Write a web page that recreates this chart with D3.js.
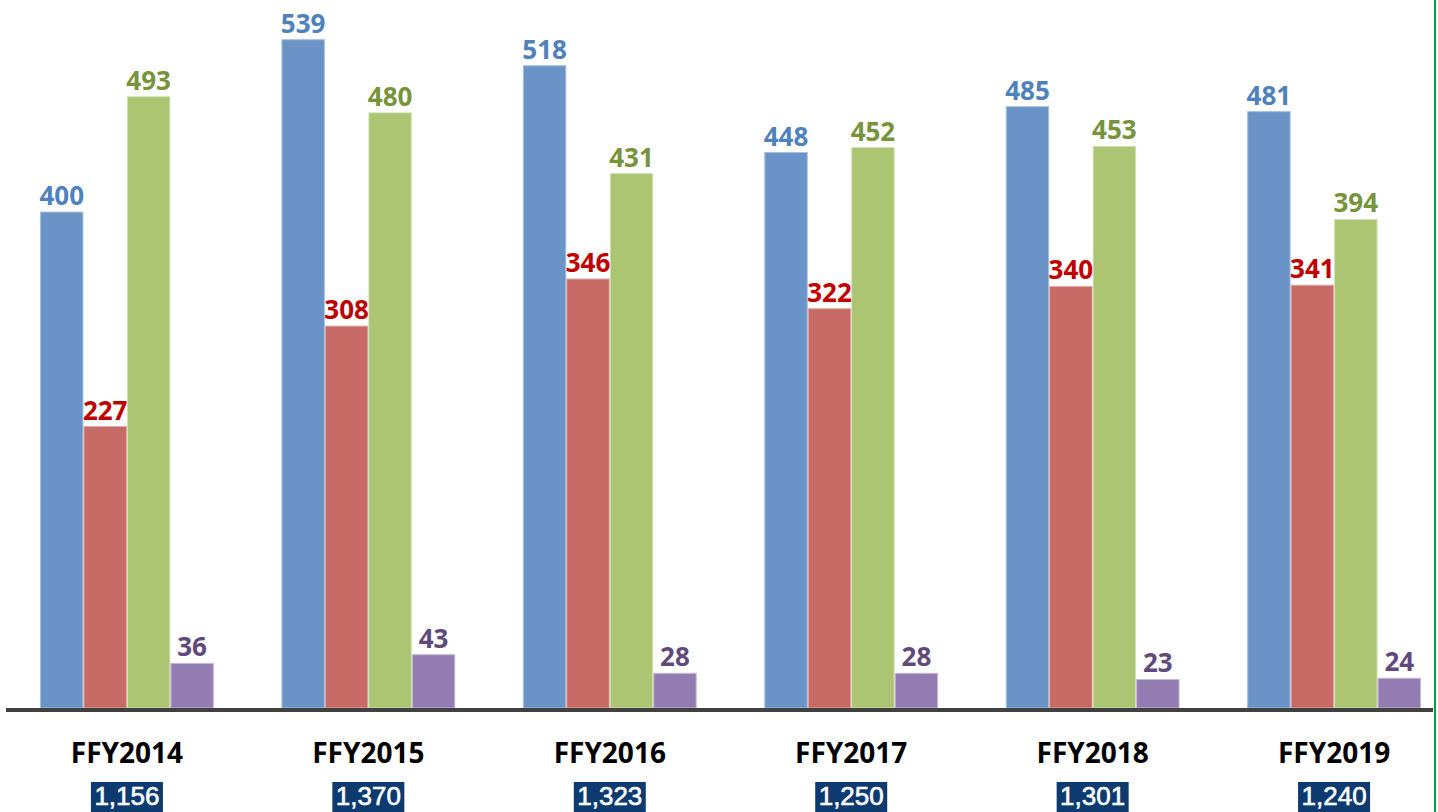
<!DOCTYPE html>
<html lang="en">
<head>
    <meta charset="UTF-8">
    <title>FFY Grouped Bars</title>
    <script src="https://d3js.org/d3.v7.min.js"></script>
    <style>
        body { margin: 0; background: #ffffff; }
        svg { display: block; }
        .value-label { font-family: "Open Sans", sans-serif; font-weight: bold; font-size: 26px; text-anchor: middle; }
        .cat-label { font-family: "Open Sans", sans-serif; font-weight: bold; font-size: 28px; text-anchor: middle; fill: #000; }
        .total-label { font-family: "Liberation Sans", Arial, sans-serif; font-size: 26px; text-anchor: middle; fill: #fff; stroke: #fff; stroke-width: 0.6px; }
    </style>
</head>
<body>
<svg id="chart" width="1438" height="812"></svg>
<script>
    // Data
    const years = ["FFY2014", "FFY2015", "FFY2016", "FFY2017", "FFY2018", "FFY2019"];
    const seriesA = [400, 539, 518, 448, 485, 481];
    const seriesB = [227, 308, 346, 322, 340, 341];
    const seriesC = [493, 480, 431, 452, 453, 394];
    const seriesD = [36, 43, 28, 28, 23, 24];
    const totals = ["1,156", "1,370", "1,323", "1,250", "1,301", "1,240"];

    const seriesList = [seriesA, seriesB, seriesC, seriesD];
    const fills = ["#6a94c8", "#c76a66", "#abc572", "#937cb1"];
    const strokes = ["#a8c0e0", "#e0aaa6", "#d2e2b4", "#c8bad8"];
    const labelColors = ["#4f81bd", "#c00000", "#77933c", "#604a7b"];

    const svg = d3.select("#chart");
    const baseY = 708;

    const x0 = d3.scaleBand()
        .domain(years)
        .range([40, 1421])
        .paddingInner(0.28)
        .paddingOuter(0);

    const x1 = d3.scaleBand()
        .domain(d3.range(seriesList.length))
        .range([0, x0.bandwidth()]);

    const y = d3.scaleLinear()
        .domain([0, 571])
        .range([baseY, 0]);

    // Bars
    const groups = svg.selectAll(".group")
        .data(years)
        .enter().append("g")
        .attr("class", "group")
        .attr("transform", d => `translate(${x0(d)},0)`);

    groups.selectAll("rect")
        .data((d, i) => seriesList.map((s, k) => ({ k: k, v: s[i] })))
        .enter().append("rect")
        .attr("x", d => x1(d.k) + 0.5)
        .attr("y", d => y(d.v))
        .attr("width", x1.bandwidth() - 1)
        .attr("height", d => baseY - y(d.v))
        .attr("fill", d => fills[d.k])
        .attr("stroke", d => strokes[d.k])
        .attr("stroke-width", 1);

    groups.selectAll(".value-label")
        .data((d, i) => seriesList.map((s, k) => ({ k: k, v: s[i] })))
        .enter().append("text")
        .attr("class", "value-label")
        .attr("x", d => x1(d.k) + x1.bandwidth() / 2)
        .attr("y", d => y(d.v) - 7)
        .attr("fill", d => labelColors[d.k])
        .text(d => d.v);

    // Baseline axis
    svg.append("line")
        .attr("x1", 6)
        .attr("x2", 1433)
        .attr("y1", baseY + 2)
        .attr("y2", baseY + 2)
        .attr("stroke", "#404040")
        .attr("stroke-width", 4);

    // Right green border
    svg.append("line")
        .attr("x1", 1435)
        .attr("x2", 1435)
        .attr("y1", 0)
        .attr("y2", 812)
        .attr("stroke", "#00a050")
        .attr("stroke-width", 2);

    // Category labels
    svg.selectAll(".cat-label")
        .data(years)
        .enter().append("text")
        .attr("class", "cat-label")
        .attr("x", d => x0(d) + x0.bandwidth() / 2)
        .attr("y", 763)
        .text(d => d);

    // Totals boxes
    const tot = svg.selectAll(".total")
        .data(years)
        .enter().append("g")
        .attr("class", "total")
        .attr("transform", d => `translate(${x0(d) + x0.bandwidth() / 2},0)`);

    tot.append("rect")
        .attr("x", -36)
        .attr("y", 782)
        .attr("width", 72)
        .attr("height", 32)
        .attr("fill", "#0d3b70");

    tot.append("text")
        .attr("class", "total-label")
        .attr("x", 0)
        .attr("y", 805)
        .text((d, i) => totals[i]);
</script>
</body>
</html>
